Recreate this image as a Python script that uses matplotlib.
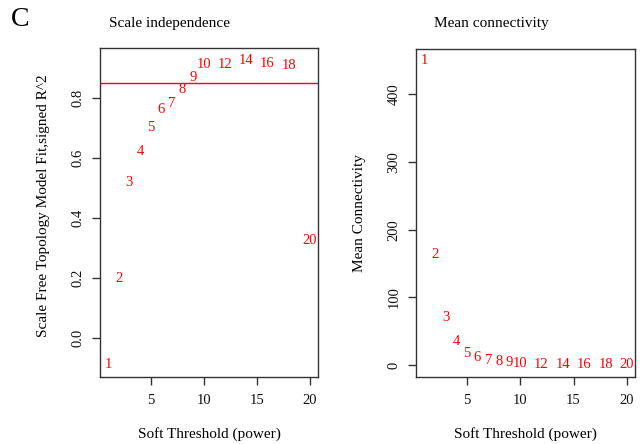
import matplotlib
matplotlib.use("Agg")
import matplotlib.pyplot as plt

# soft-threshold powers and their fit statistics
powers = [1, 2, 3, 4, 5, 6, 7, 8, 9, 10, 12, 14, 16, 18, 20]
sft_r2 = [-0.089, 0.198, 0.518, 0.623, 0.702, 0.763, 0.782, 0.829, 0.869,
          0.913, 0.913, 0.924, 0.916, 0.908, 0.326]
mean_k = [450.0, 163.7, 69.8, 34.4, 18.1, 10.8, 7.4, 4.9, 3.8,
          2.4, 1.6, 1.1, 0.9, 0.7, 0.6]
r2_cut = 0.85

x_ticks = [5, 10, 15, 20]
r2_ticks = [0.0, 0.2, 0.4, 0.6, 0.8]
k_ticks = [0, 100, 200, 300, 400]

SERIF = "Liberation Serif"
BOX = "#333333"
plt.rcParams["font.family"] = SERIF

W, H = 643, 444
fig = plt.figure(figsize=(W / 100, H / 100), dpi=100, facecolor="white")


def _axes(left, top, right, bottom):
    return fig.add_axes([left / W, 1 - bottom / H, (right - left) / W, (bottom - top) / H])


def _style(ax, yticks, ylabels):
    for sp in ax.spines.values():
        sp.set_color(BOX)
        sp.set_linewidth(1.0)
    ax.tick_params(direction="out", length=6, width=1.0, color=BOX,
                   labelsize=10.5, labelcolor="#111111")
    ax.tick_params(axis="x", pad=6)
    ax.tick_params(axis="y", pad=5)
    ax.set_xticks(x_ticks)
    ax.set_xticklabels([str(t) for t in x_ticks])
    ax.set_yticks(yticks)
    ax.set_yticklabels(ylabels, rotation=90, va="center")
    ax.set_xlim(0.24, 20.76)


# left: scale independence
ax1 = _axes(100, 48, 318, 377)
_style(ax1, r2_ticks, [f"{t:.1f}" for t in r2_ticks])
ax1.set_ylim(-0.13, 0.967)
for p, v in zip(powers, sft_r2):
    ax1.text(p, v, str(p), color="red", ha="center", va="center", fontsize=10.5)
ax1.axhline(r2_cut, color="red", lw=1.0)
ax1.text(-0.257, 0.52, "Scale Free Topology Model Fit,signed R^2", transform=ax1.transAxes,
         rotation=90, ha="center", va="center", fontsize=11)
ax1.text(0.5, -0.173, "Soft Threshold (power)", transform=ax1.transAxes,
         ha="center", va="center", fontsize=11)

# right: mean connectivity
ax2 = _axes(416, 49, 635, 377)
_style(ax2, k_ticks, [str(t) for t in k_ticks])
ax2.set_ylim(-17.3, 466.5)
for p, v in zip(powers, mean_k):
    ax2.text(p, v, str(p), color="red", ha="center", va="center", fontsize=10.5)
ax2.text(-0.256, 0.5, "Mean Connectivity", transform=ax2.transAxes,
         rotation=90, ha="center", va="center", fontsize=11)
ax2.text(0.5, -0.173, "Soft Threshold (power)", transform=ax2.transAxes,
         ha="center", va="center", fontsize=11)

fig.text(170 / W, 1 - 23 / H, "Scale independence", ha="center", va="center", fontsize=11)
fig.text(491 / W, 1 - 23 / H, "Mean connectivity", ha="center", va="center", fontsize=11)
fig.text(20 / W, 1 - 20 / H, "C", ha="center", va="center", fontsize=20)

fig.savefig("out.png", dpi=100, facecolor="white")
